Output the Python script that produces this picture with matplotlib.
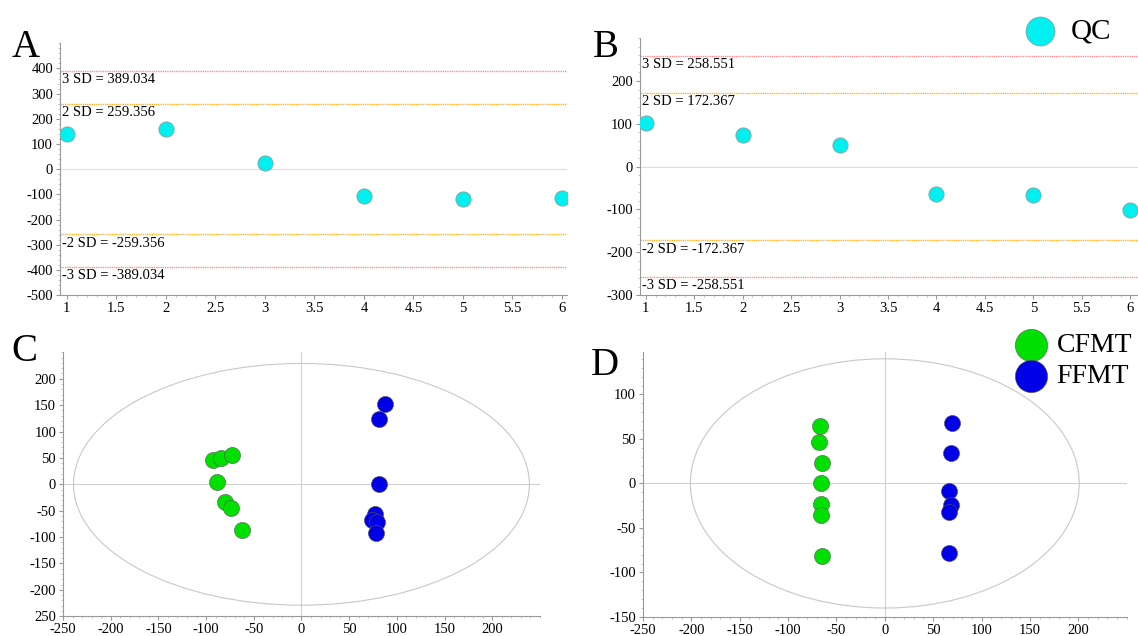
import matplotlib
matplotlib.use("Agg")
import matplotlib.pyplot as plt
from matplotlib.patches import Ellipse
from matplotlib.ticker import AutoMinorLocator

plt.rcParams['font.family'] = ['Liberation Serif', 'DejaVu Serif']
plt.rcParams['axes.unicode_minus'] = False

# QC samples (panels A and B)
qc_x = [1, 2, 3, 4, 5, 6]
qc_a = [141, 158, 26, -105, -117, -113]
qc_b = [101, 74, 50, -64, -67, -101]
sd_a = {2: 259.356, 3: 389.034}
sd_b = {2: 172.367, 3: 258.551}

# score plots (panels C and D)
c_cfmt_x = [-93, -84, -73, -89, -80, -74, -62]
c_cfmt_y = [47, 50, 56, 4, -34, -45, -87]
c_ffmt_x = [88, 81, 81, 77, 74, 79, 78]
c_ffmt_y = [153, 123, 1, -56, -67, -71, -92]
d_cfmt_x = [-67, -68, -65, -66, -66, -66, -65]
d_cfmt_y = [65, 47, 23, 1, -23, -35, -82]
d_ffmt_x = [69, 68, 66, 68, 66, 66]
d_ffmt_y = [68, 34, -8, -24, -32, -78]
ellipse_c = (239, 229)
ellipse_d = (201, 140)

CYAN = '#00f0f0'
GREEN = '#00e000'
BLUE = '#0000e6'
RED = '#ff8f8f'
ORANGE = '#ffb52e'

fig = plt.figure(figsize=(11.38, 6.36), dpi=100)


def style(ax):
    for s in ['top', 'right']:
        ax.spines[s].set_visible(False)
    for s in ['left', 'bottom']:
        ax.spines[s].set_color('#999999')
        ax.spines[s].set_linewidth(0.8)
    ax.xaxis.set_minor_locator(AutoMinorLocator(5))
    ax.yaxis.set_minor_locator(AutoMinorLocator(5))
    ax.tick_params(which='major', length=3, color='#999999', labelsize=10.5, pad=2)
    ax.tick_params(which='minor', length=1.5, color='#bbbbbb')


def qc_panel(ax, vals, sd, ylim, yticks):
    style(ax)
    ax.axhline(0, color='#dddddd', lw=0.8, zorder=1)
    for k, col in [(3, RED), (2, ORANGE)]:
        for sign in [1, -1]:
            v = sign * sd[k]
            ax.axhline(v, color=col, lw=1.0, ls=(0, (1, 0.6)), zorder=1)
            pre = '-' if sign < 0 else ''
            ax.text(0.004, v - (ylim[1] - ylim[0]) * 0.008, f'{pre}{k} SD = {pre}{sd[k]:.3f}',
                    ha='left', va='top', fontsize=10.5, transform=ax.get_yaxis_transform())
    sc = ax.scatter(qc_x, vals, s=120, c=CYAN, edgecolors='#8aa0a0', linewidths=0.6,
                    zorder=3, label='QC')
    ax.set_ylim(*ylim)
    ax.set_yticks(yticks)
    ax.set_xticks([1, 1.5, 2, 2.5, 3, 3.5, 4, 4.5, 5, 5.5, 6])
    ax.set_xticklabels(['1', '1.5', '2', '2.5', '3', '3.5', '4', '4.5', '5', '5.5', '6'])
    return sc


axA = fig.add_axes([0.0527, 0.536, 0.4455, 0.396])
axA.set_xlim(0.93, 6.05)
qc_panel(axA, qc_a, sd_a, (-500, 500), list(range(-500, 401, 100)))

axB = fig.add_axes([0.5624, 0.536, 0.4376, 0.404])
axB.set_xlim(0.94, 6.08)
scB = qc_panel(axB, qc_b, sd_b, (-300, 300), list(range(-300, 201, 100)))


def score_panel(ax, ell, ylim, yticks, pts, ylabels=None):
    style(ax)
    ax.axhline(0, color='#d0d0d0', lw=0.8, zorder=1)
    ax.axvline(0, color='#d0d0d0', lw=0.8, zorder=1)
    ax.add_patch(Ellipse((0, 0), 2 * ell[0], 2 * ell[1], fill=False,
                         edgecolor='#c8c8c8', lw=0.8, zorder=1))
    hs = []
    for xs, ys, col, lab in pts:
        hs.append(ax.scatter(xs, ys, s=135, c=col, edgecolors='#555555',
                             linewidths=0.4, zorder=3, label=lab))
    ax.set_xlim(-250, 250)
    ax.set_ylim(*ylim)
    ax.set_xticks(list(range(-250, 201, 50)))
    ax.set_yticks(yticks)
    if ylabels:
        ax.set_yticklabels(ylabels)
    return hs


axC = fig.add_axes([0.0554, 0.031, 0.419, 0.415])
cticks = list(range(-250, 201, 50))
score_panel(axC, ellipse_c, (-250, 250), cticks,
            [(c_cfmt_x, c_cfmt_y, GREEN, 'CFMT'), (c_ffmt_x, c_ffmt_y, BLUE, 'FFMT')],
            ['250'] + [str(t) for t in cticks[1:]])

axD = fig.add_axes([0.565, 0.030, 0.425, 0.417])
hsD = score_panel(axD, ellipse_d, (-150, 148), list(range(-150, 101, 50)),
                  [(d_cfmt_x, d_cfmt_y, GREEN, 'CFMT'), (d_ffmt_x, d_ffmt_y, BLUE, 'FFMT')])

for lab, x, y in [('A', 0.010, 0.897), ('B', 0.521, 0.897), ('C', 0.010, 0.418), ('D', 0.519, 0.397)]:
    fig.text(x, y, lab, fontsize=28, ha='left', va='bottom')

fig.legend(handles=[scB], loc='center left', bbox_to_anchor=(0.888, 0.951),
           frameon=False, fontsize=21, markerscale=1.9, handletextpad=0.05,
           borderaxespad=0, borderpad=0)
fig.legend(handles=hsD, loc='center left', bbox_to_anchor=(0.882, 0.433),
           frameon=False, fontsize=20, markerscale=2.0, handletextpad=-0.1,
           labelspacing=0.2, borderaxespad=0, borderpad=0)

fig.savefig('out.png', dpi=100)
